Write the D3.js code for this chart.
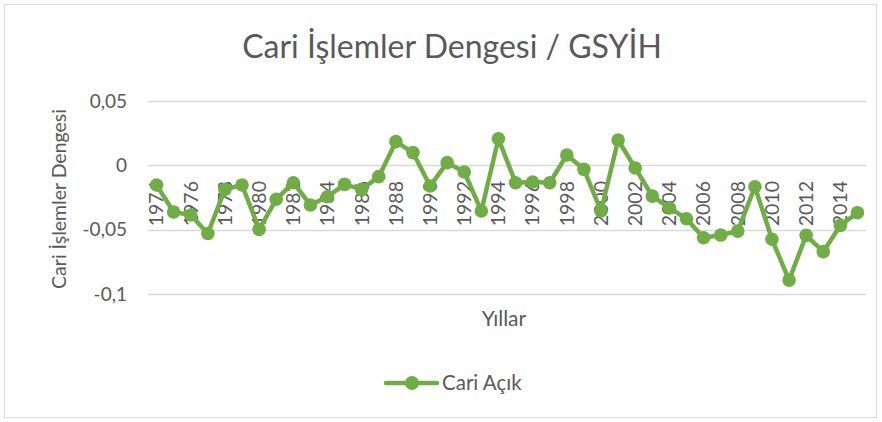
<!DOCTYPE html>
<html>
<head>
<meta charset="utf-8">
<script src="https://cdn.jsdelivr.net/npm/d3@7"></script>
<style>
  body { margin: 0; background: #fff; }
  svg { font-family: Lato, "Open Sans", sans-serif; }
</style>
</head>
<body>
<svg width="882" height="422"></svg>
<script>
var years = d3.range(1974, 2016);
var cariAcik = [
  -0.0153, -0.0363, -0.0386, -0.0530, -0.0187, -0.0153, -0.0498, -0.0264,
  -0.0135, -0.0308, -0.0244, -0.0148, -0.0187, -0.0088, 0.0184, 0.0099,
  -0.0161, 0.0021, -0.0052, -0.0355, 0.0207, -0.0135, -0.0130, -0.0135,
  0.0080, -0.0031, -0.0355, 0.0197, -0.0021, -0.0239, -0.0330, -0.0415,
  -0.0563, -0.0542, -0.0511, -0.0166, -0.0575, -0.0892, -0.0544, -0.0671,
  -0.0467, -0.0368
];
var yTicks = [0.05, 0, -0.05, -0.1];
var xTickYears = years.filter(function(d) { return d % 2 === 0; });

var svg = d3.select("svg");
var green = "#70AD47", textCol = "#595959";

// chart border
svg.append("rect")
  .attr("x", 4.5).attr("y", 4.5)
  .attr("width", 872).attr("height", 413)
  .attr("fill", "#fff").attr("stroke", "#d9d9d9");

var x = d3.scaleBand().domain(years).range([148, 866]);
var y = d3.scaleLinear().domain([-0.1, 0.05]).range([294, 101]);

// gridlines
svg.append("g").selectAll("line")
  .data(yTicks)
  .enter().append("line")
  .attr("x1", 148).attr("x2", 866)
  .attr("y1", function(d) { return Math.round(y(d)) + 0.5; })
  .attr("y2", function(d) { return Math.round(y(d)) + 0.5; })
  .attr("stroke", "#d9d9d9").attr("stroke-width", 1.5);

// y tick labels (plain hyphen, comma decimal)
var fmt = function(d) { return String(d).replace(".", ","); };
svg.append("g").selectAll("text")
  .data(yTicks)
  .enter().append("text")
  .attr("x", 127)
  .attr("y", function(d) { return y(d); })
  .attr("dy", "0.35em")
  .attr("text-anchor", "end")
  .attr("font-size", 19)
  .attr("fill", textCol)
  .text(fmt);

// x tick labels (rotated)
svg.append("g").selectAll("text")
  .data(xTickYears)
  .enter().append("text")
  .attr("transform", function(d) {
    return "translate(" + (x(d) + x.bandwidth() / 2) + "," + 181 + ") rotate(-90)";
  })
  .attr("dy", "0.35em")
  .attr("text-anchor", "end")
  .attr("font-size", 19.5)
  .attr("fill", textCol)
  .text(function(d) { return d; });

// line + markers
var line = d3.line()
  .x(function(d, i) { return x(years[i]) + x.bandwidth() / 2; })
  .y(function(d) { return y(d); });

svg.append("path")
  .datum(cariAcik)
  .attr("d", line)
  .attr("fill", "none")
  .attr("stroke", green)
  .attr("stroke-width", 4.5)
  .attr("stroke-linejoin", "round");

svg.append("g").selectAll("circle")
  .data(cariAcik)
  .enter().append("circle")
  .attr("cx", function(d, i) { return x(years[i]) + x.bandwidth() / 2; })
  .attr("cy", function(d) { return y(d); })
  .attr("r", 6.8)
  .attr("fill", green);

// titles
svg.append("text")
  .attr("x", 452).attr("y", 58)
  .attr("text-anchor", "middle")
  .attr("font-size", 32)
  .attr("fill", textCol)
  .text("Cari İşlemler Dengesi / GSYİH");

svg.append("text")
  .attr("transform", "translate(66,199) rotate(-90)")
  .attr("text-anchor", "middle")
  .attr("font-size", 19.5)
  .attr("fill", textCol)
  .text("Cari İşlemler Dengesi");

svg.append("text")
  .attr("x", 504).attr("y", 326)
  .attr("text-anchor", "middle")
  .attr("font-size", 21)
  .attr("fill", textCol)
  .text("Yıllar");

// legend
var leg = svg.append("g");
leg.append("line")
  .attr("x1", 386).attr("x2", 437)
  .attr("y1", 383).attr("y2", 383)
  .attr("stroke", green).attr("stroke-width", 4.5)
  .attr("stroke-linecap", "round");
leg.append("circle")
  .attr("cx", 412).attr("cy", 383).attr("r", 7)
  .attr("fill", green);
leg.append("text")
  .attr("x", 442).attr("y", 383)
  .attr("dy", "0.35em")
  .attr("font-size", 20.5)
  .attr("fill", textCol)
  .text("Cari Açık");
</script>
</body>
</html>
